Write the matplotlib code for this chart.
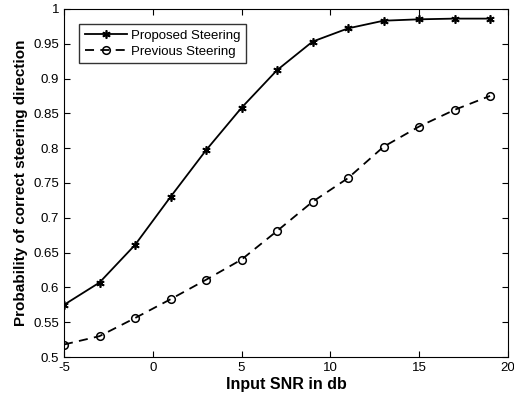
import matplotlib
matplotlib.use("Agg")
import matplotlib.pyplot as plt

# Data
snr_db = [-5, -3, -1, 1, 3, 5, 7, 9, 11, 13, 15, 17, 19]
proposed = [0.575, 0.607, 0.661, 0.730, 0.797, 0.858, 0.912, 0.953, 0.972, 0.983, 0.985, 0.986, 0.986]
previous = [0.518, 0.530, 0.556, 0.583, 0.611, 0.640, 0.681, 0.723, 0.757, 0.802, 0.831, 0.855, 0.875]
xticks = [-5, 0, 5, 10, 15, 20]
yticks = [0.5, 0.55, 0.6, 0.65, 0.7, 0.75, 0.8, 0.85, 0.9, 0.95, 1.0]

plt.rcParams['font.family'] = ['Liberation Sans', 'DejaVu Sans']

fig = plt.figure(figsize=(5.14, 4.03), dpi=100)
ax = fig.add_axes([0.1245, 0.114, 0.8635, 0.864])

ax.plot(snr_db, proposed, color='black', linestyle='-', linewidth=1.3,
        marker=(6, 2, 0), markersize=6, markeredgewidth=1.2, label='Proposed Steering')
ax.plot(snr_db, previous, color='black', linestyle=(0, (5, 3.5)), linewidth=1.3,
        marker='o', markersize=5.5, markerfacecolor='none', markeredgewidth=1.1,
        label='Previous Steering')

ax.set_xlim(-5, 20)
ax.set_ylim(0.5, 1.0)
ax.set_xticks(xticks)
ax.set_yticks(yticks)
ax.set_xticklabels([str(t) for t in xticks])
ax.set_yticklabels(['0.5', '0.55', '0.6', '0.65', '0.7', '0.75', '0.8', '0.85', '0.9', '0.95', '1'])
ax.tick_params(direction='in', top=True, right=True, labelsize=9.5, length=4)

ax.set_xlabel('Input SNR in db', fontsize=11.5, fontweight='bold', labelpad=2)
ax.set_ylabel('Probability of correct steering direction', fontsize=11, fontweight='bold', labelpad=4)

leg = ax.legend(loc='upper left', bbox_to_anchor=(0.02, 0.975), fontsize=9.5, frameon=True,
                fancybox=False, edgecolor='black', handlelength=3.2, borderpad=0.4,
                labelspacing=0.3, handletextpad=0.3)
leg.get_frame().set_linewidth(1.0)

plt.savefig("out.png", dpi=100)
